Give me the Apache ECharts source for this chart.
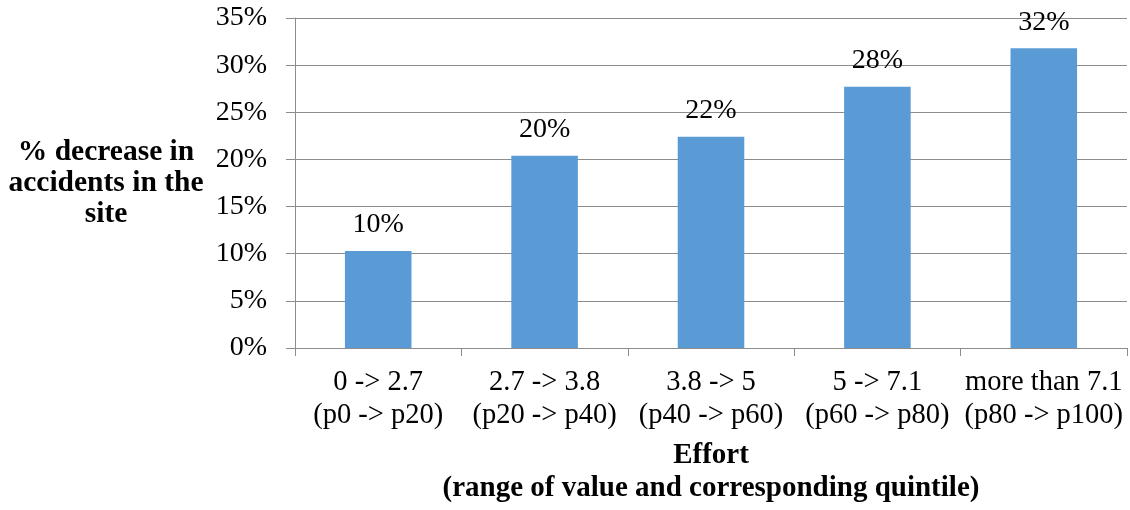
<!DOCTYPE html>
<html><head><meta charset="utf-8">
<script src="https://cdn.jsdelivr.net/npm/echarts@6/dist/echarts.min.js"></script>
<style>html,body{margin:0;padding:0;background:#fff}#c{width:1130px;height:510px}</style>
</head><body><div id="c"></div>
<script>
const categories = ['0 -> 2.7\n(p0 -> p20)', '2.7 -> 3.8\n(p20 -> p40)', '3.8 -> 5\n(p40 -> p60)', '5 -> 7.1\n(p60 -> p80)', 'more than 7.1\n(p80 -> p100)'];
const values = [10.3, 20.4, 22.4, 27.7, 31.8];
const labels = ['10%', '20%', '22%', '28%', '32%'];
const yTitle = '% decrease in\naccidents in the\nsite';
const xTitle = 'Effort\n(range of value and corresponding quintile)';
const font = '"Liberation Serif", "Times New Roman", serif';
const chart = echarts.init(document.getElementById('c'));
chart.setOption({
  animation: false,
  textStyle: { fontFamily: font },
  grid: { left: 295, right: 3, top: 18, bottom: 160, containLabel: false },
  xAxis: {
    type: 'category', data: categories,
    axisLine: { lineStyle: { color: '#8c8c8c', width: 1 } },
    axisTick: { show: true, length: 8, lineStyle: { color: '#8c8c8c' }, alignWithLabel: false },
    axisLabel: { fontFamily: font, fontSize: 28.5, color: '#000', lineHeight: 33, margin: 18, interval: 0 },
    name: xTitle, nameLocation: 'middle', nameGap: 91, nameMoveOverlap: false,
    nameTextStyle: { fontFamily: font, fontSize: 29, fontWeight: 'bold', color: '#000', lineHeight: 33 }
  },
  yAxis: {
    type: 'value', min: 0, max: 35, interval: 5,
    axisLine: { show: true, lineStyle: { color: '#8c8c8c', width: 1 } },
    axisTick: { show: true, length: 9, lineStyle: { color: '#8c8c8c' } },
    axisLabel: { fontFamily: font, fontSize: 28, color: '#000', margin: 28, formatter: v => v + '%' },
    splitLine: { lineStyle: { color: '#8c8c8c', width: 1 } },
    name: yTitle, nameLocation: 'middle', nameRotate: 0, nameGap: 189,
    nameTextStyle: { fontFamily: font, fontSize: 29.5, fontWeight: 'bold', color: '#000', lineHeight: 31, align: 'center' }
  },
  series: [{
    type: 'bar', data: values, barWidth: '40%',
    itemStyle: { color: '#5b9bd5' },
    label: { show: true, position: 'top', distance: 12, fontFamily: font, fontSize: 28, color: '#000',
      formatter: p => labels[p.dataIndex] }
  }]
});
</script></body></html>
